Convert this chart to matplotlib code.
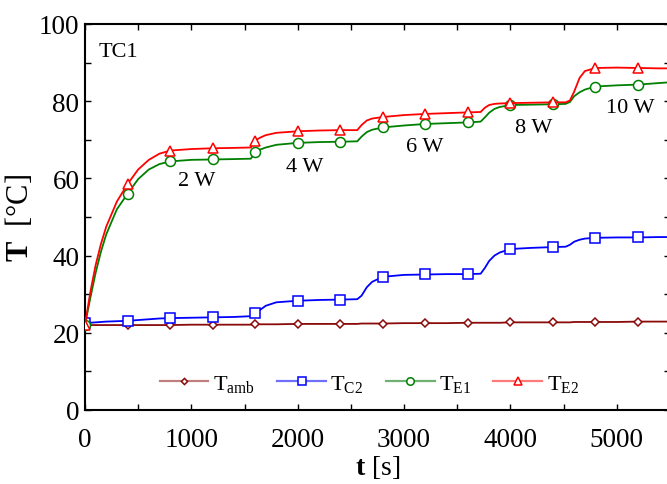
import matplotlib
matplotlib.use("Agg")
import matplotlib.pyplot as plt
from matplotlib.lines import Line2D
from matplotlib.ticker import MultipleLocator

plt.rcParams["font.family"] = ["Liberation Serif", "DejaVu Serif"]
plt.rcParams["mathtext.fontset"] = "custom"
plt.rcParams["mathtext.rm"] = "Liberation Serif"
plt.rcParams["mathtext.it"] = "Liberation Serif:italic"
plt.rcParams["mathtext.bf"] = "Liberation Serif:bold"

# Time axis (s)
t_s = [0, 50, 100, 150, 200, 300, 400, 500, 600, 700, 800, 1000, 1200, 1400,
       1560, 1600, 1650, 1700, 1800, 2000, 2200, 2400, 2560, 2600, 2650, 2700,
       2800, 3000, 3200, 3400, 3600, 3720, 3760, 3800, 3850, 3900, 4000, 4200,
       4400, 4520, 4560, 4600, 4650, 4700, 4800, 5000, 5200, 5400, 5500]

# Temperatures (deg C)
T_amb = [22.0, 22.0, 22.0, 22.0, 22.0, 22.0, 22.0, 22.0, 22.0, 22.0, 22.0,
         22.1, 22.1, 22.1, 22.1, 22.2, 22.2, 22.2, 22.2, 22.3, 22.3, 22.3, 22.3,
         22.4, 22.4, 22.4, 22.4, 22.5, 22.5, 22.5, 22.6, 22.6, 22.6, 22.6, 22.6,
         22.6, 22.7, 22.7, 22.7, 22.7, 22.7, 22.8, 22.8, 22.8, 22.8, 22.8, 22.9,
         22.9, 22.9]
T_C2 = [22.5, 22.6, 22.7, 22.8, 22.9, 23.0, 23.1, 23.3, 23.5, 23.7, 23.8,
        23.9, 24.0, 24.1, 24.3, 25.2, 26.0, 27.0, 27.9, 28.3, 28.5, 28.6, 28.7,
        29.6, 31.8, 33.2, 34.5, 35.0, 35.1, 35.2, 35.2, 35.3, 36.8, 38.6, 40.0,
        40.8, 41.7, 42.0, 42.2, 42.3, 42.8, 43.6, 44.1, 44.4, 44.6, 44.7, 44.7,
        44.8, 44.8]
T_E1 = [22.0, 29.0, 35.5, 41.0, 45.5, 52.0, 56.0, 59.8, 62.3, 63.7, 64.4,
        64.8, 64.9, 65.0, 65.1, 66.8, 67.5, 68.0, 68.7, 69.2, 69.4, 69.5, 69.6,
        70.8, 72.0, 72.6, 73.2, 73.7, 74.1, 74.3, 74.5, 74.7, 75.8, 77.0, 78.0,
        78.5, 79.0, 79.1, 79.2, 79.3, 79.8, 81.3, 82.3, 83.0, 83.8, 84.1, 84.3,
        84.7, 84.9]
T_E2 = [22.0, 30.5, 37.5, 43.0, 47.5, 54.0, 58.5, 62.3, 64.8, 66.4, 67.2,
        67.6, 67.8, 67.9, 68.0, 69.8, 70.6, 71.2, 71.8, 72.2, 72.4, 72.5, 72.5,
        73.8, 75.0, 75.5, 75.9, 76.4, 76.7, 76.9, 77.1, 77.2, 78.3, 79.0, 79.3,
        79.4, 79.5, 79.6, 79.7, 79.7, 80.2, 82.5, 86.0, 87.8, 88.6, 88.7, 88.6,
        88.5, 88.5]

# Heater power labels: text, time, temperature
power_labels = ["2 W", "4 W", "6 W", "8 W", "10 W"]
power_t = [1053, 2068, 3195, 4222, 5129]
power_T = [58.3, 61.9, 67.1, 72.0, 77.2]

series = [
    ("T$_{\\mathregular{amb}}$", T_amb, "#8b0a0a", "#c08080", "D", 4.2),
    ("T$_{\\mathregular{C2}}$", T_C2, "#0000ff", "#7070ff", "s", 7.2),
    ("T$_{\\mathregular{E1}}$", T_E1, "#008000", "#70b070", "o", 7.2),
    ("T$_{\\mathregular{E2}}$", T_E2, "#ff0000", "#ff7a7a", "^", 7.2),
]

marker_idx = [i for i, t in enumerate(t_s) if t % 400 == 0]

fig = plt.figure(figsize=(6.67, 4.85), dpi=100)
ax = fig.add_axes([0.1274, 0.1526, 0.877, 0.7959])

handles = []
for label, vals, col, light, mk, ms in series:
    ax.plot(t_s, vals, color=col, lw=1.3, marker=mk, markersize=ms,
            markevery=marker_idx, mfc="white", mec=col, mew=1.1, zorder=3)
    handles.append(Line2D([], [], color=light, lw=1.6, marker=mk,
                          markersize=ms * 0.75, mfc="white", mec=col, mew=1.1,
                          label=label))

for txt, tx, ty in zip(power_labels, power_t, power_T):
    ax.text(tx, ty, txt, ha="center", va="baseline", fontsize=16)

ax.text(132, 91.7, "TC1", ha="left", va="baseline", fontsize=16)

ax.set_xlim(0, 5500)
ax.set_ylim(0, 100)
ax.xaxis.set_major_locator(MultipleLocator(1000))
ax.xaxis.set_minor_locator(MultipleLocator(500))
ax.yaxis.set_major_locator(MultipleLocator(20))
ax.yaxis.set_minor_locator(MultipleLocator(10))
ax.tick_params(which="both", direction="in", top=True, right=True,
               length=4, width=1.0, labelsize=19.5)
ax.tick_params(axis="x", pad=12)
ax.tick_params(axis="y", pad=4)
for sp in ax.spines.values():
    sp.set_linewidth(1.5)

ax.set_xlabel("$\\mathbf{t}$ [s]", fontsize=20, labelpad=1)
ax.set_ylabel("$\\mathbf{T}$  [°C]", fontsize=22, labelpad=3)

ax.legend(handles=handles, loc="center", bbox_to_anchor=(0.486, 0.068),
          ncol=4, frameon=False, fontsize=16, handlelength=2.2,
          handletextpad=0.2, columnspacing=1.0)

fig.savefig("out.png", dpi=100)
